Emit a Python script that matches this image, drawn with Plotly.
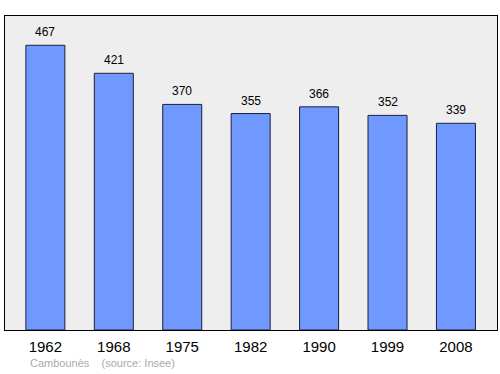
import plotly.graph_objects as go

years = ["1962", "1968", "1975", "1982", "1990", "1999", "2008"]
population = [467, 421, 370, 355, 366, 352, 339]

fig = go.Figure()
fig.add_trace(go.Bar(
    x=years, y=population, width=0.57,
    marker=dict(color="rgb(112,153,255)", line=dict(color="rgb(30,30,60)", width=1)),
    hoverinfo="skip",
))
for i, v in enumerate(population):
    fig.add_annotation(x=i, y=v, text=str(v), showarrow=False, yanchor="bottom", yshift=4,
                       font=dict(family="Liberation Sans, Arial", size=12, color="black"))
fig.add_annotation(xref="paper", yref="paper", x=(28-5)/492, y=-41/314, xanchor="left", yanchor="bottom",
                   text="Cambounès\u00a0\u00a0\u00a0\u00a0(source: Insee)", showarrow=False,
                   font=dict(family="Liberation Sans, Arial", size=11, color="#aaaaaa"))
fig.update_layout(
    width=500, height=374,
    margin=dict(l=5, r=3, t=16, b=44),
    plot_bgcolor="#eeeeee", paper_bgcolor="white",
    showlegend=False, bargap=0.43,
    xaxis=dict(type="category", range=[-0.59, 6.6], showline=True, mirror=True, linecolor="black", linewidth=1,
               showgrid=False, ticks="", ticklabelstandoff=3,
               tickfont=dict(family="Liberation Sans, Arial", size=15, color="black")),
    yaxis=dict(range=[0, 515], showline=True, mirror=True, linecolor="black", linewidth=1,
               showgrid=False, showticklabels=False, ticks="", zeroline=False),
)
fig.write_html("out.html")
